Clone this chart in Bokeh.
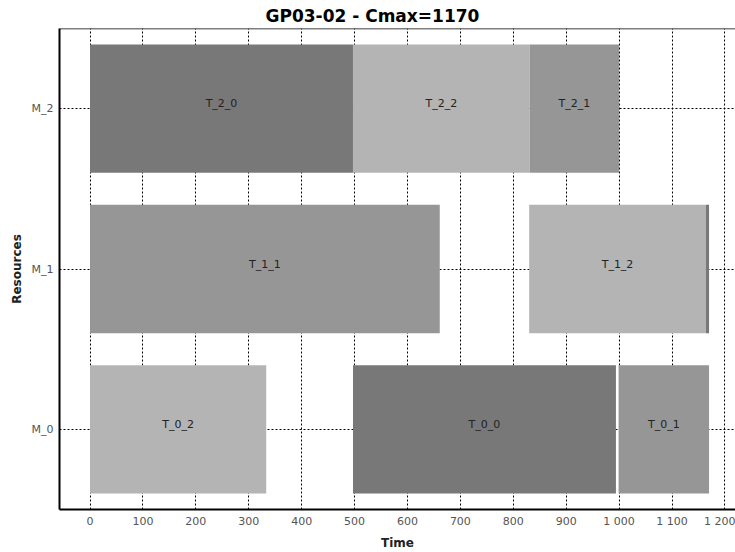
from bokeh.plotting import figure
from bokeh.models import (FactorRange, Range1d, FixedTicker, ColumnDataSource, Title,
                          LabelSet, Span)
from bokeh.core.properties import value
from bokeh.embed import file_html
from bokeh.resources import INLINE

machines = ["M_0", "M_1", "M_2"]
task_machine = ["M_0", "M_0", "M_0", "M_1", "M_1", "M_1", "M_2", "M_2", "M_2"]
task_names = ["T_0_2", "T_0_0", "T_0_1", "T_1_1", "T_1_2", "T_1_0", "T_2_0", "T_2_2", "T_2_1"]
task_start = [0, 497, 999, 0, 830, 1164, 0, 497, 831]
task_end = [333, 994, 1170, 661, 1164, 1170, 497, 831, 1000]
x_ticks = [0, 100, 200, 300, 400, 500, 600, 700, 800, 900, 1000, 1100, 1200]
x_tick_labels = ["0", "100", "200", "300", "400", "500", "600", "700", "800", "900",
                 "1 000", "1 100", "1 200"]
cmax = 1170
op_colors = {"0": "#787878", "1": "#969696", "2": "#b4b4b4"}

colors = [op_colors[n[-1]] for n in task_names]
mids = [(s + e) / 2 for s, e in zip(task_start, task_end)]
labels = [n if (e - s) > 20 else "" for n, s, e in zip(task_names, task_start, task_end)]

src = ColumnDataSource(dict(y=task_machine, left=task_start, right=task_end,
                            color=colors, mid=mids, label=labels))

FONT = "DejaVu Sans"

p = figure(width=735, height=552, output_backend="svg", toolbar_location=None,
           y_range=FactorRange(factors=machines), x_range=Range1d(-57.7, 1220),
           min_border_left=59, min_border_right=0, min_border_bottom=37, min_border_top=28)

p.add_layout(Title(text="GP03-02 - Cmax=%d" % cmax, align="left", offset=206,
                   text_font=FONT, text_font_size="17px", text_font_style="bold",
                   text_color="#000000", standoff=6), "above")

p.hbar(y="y", left="left", right="right", height=0.8, fill_color="color",
       line_color=None, source=src)

p.add_layout(LabelSet(x="mid", y="y", text="label", source=src, text_align="center",
                      text_baseline="middle", y_offset=5, text_font_size="11px",
                      text_font=value(FONT), text_color="#222222"))

# top border of the plotting frame
p.add_layout(Span(location=len(machines), dimension="width", line_color="#000000",
                  line_width=1.5))

xax = p.below[0]
yax = p.left[0]
xax.ticker = FixedTicker(ticks=x_ticks)
xax.major_label_overrides = {t: l for t, l in zip(x_ticks, x_tick_labels)}
for ax in (xax, yax):
    ax.axis_line_color = "#000000"
    ax.axis_line_width = 2
    ax.major_tick_line_color = None
    ax.minor_tick_line_color = None
    ax.major_tick_out = 0
    ax.major_tick_in = 0
    ax.minor_tick_out = 0
    ax.major_label_text_font = FONT
    ax.major_label_text_font_size = "11px"
    ax.major_label_text_color = "#555555"
    ax.axis_label_text_font = FONT
    ax.axis_label_text_font_size = "12px"
    ax.axis_label_text_font_style = "bold"
    ax.axis_label_text_color = "#222222"
xax.axis_label = "Time"
yax.axis_label = "Resources"
xax.major_label_standoff = 5
xax.axis_label_standoff = 5
yax.major_label_standoff = 6
yax.axis_label_standoff = 5

p.xgrid.grid_line_color = "#000000"
p.ygrid.grid_line_color = "#000000"
p.grid.grid_line_dash = "2 2"
p.grid.grid_line_width = 1

p.outline_line_color = None
p.background_fill_color = "#ffffff"

open("out.html", "w").write(file_html(p, INLINE))
